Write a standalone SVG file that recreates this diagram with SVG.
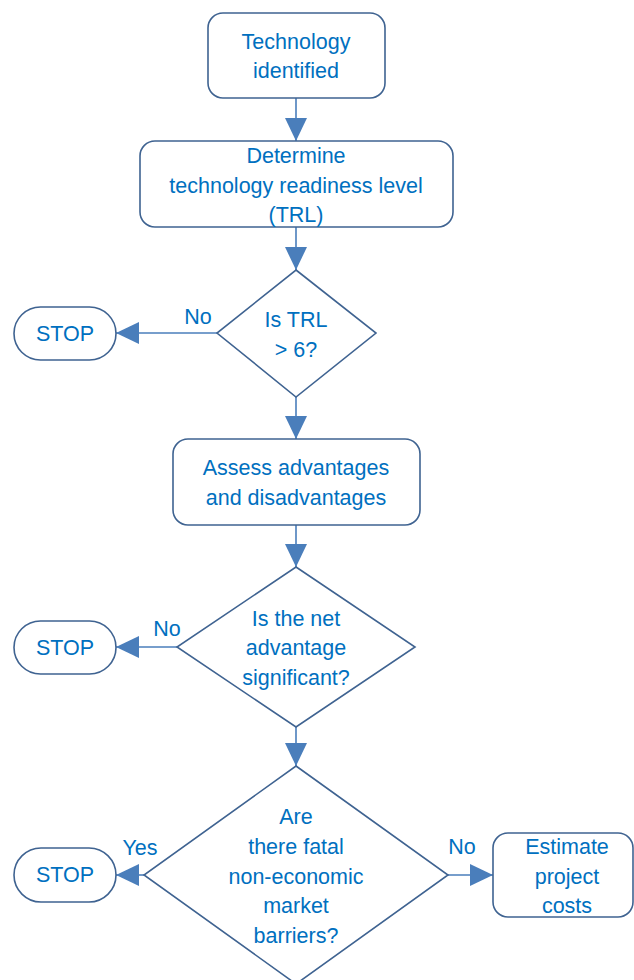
<svg xmlns="http://www.w3.org/2000/svg" width="634" height="980" viewBox="0 0 634 980">
<defs>
<marker id="ah" markerUnits="userSpaceOnUse" markerWidth="24" markerHeight="24" viewBox="0 0 24 24" refX="23" refY="12" orient="auto">
<path d="M0,1 L23,12 L0,23 Z" fill="#4a7ebb"/>
</marker>
<style>
.n{fill:#fff;stroke:#3f6391;stroke-width:1.6}
.t{font-family:"Liberation Sans",Arial,sans-serif;font-size:21.5px;fill:#0070c0;text-anchor:middle}
.c{stroke:#4a7ebb;stroke-width:1.6;fill:none;marker-end:url(#ah)}
</style>
</defs>
<rect width="634" height="980" fill="#fff"/>
<g id="connectors">
<line class="c" x1="296" y1="98" x2="296" y2="141"/>
<line class="c" x1="296" y1="227" x2="296" y2="270"/>
<line class="c" x1="217" y1="333" x2="116" y2="333"/>
<line class="c" x1="296" y1="397" x2="296" y2="439"/>
<line class="c" x1="296" y1="525" x2="296" y2="567"/>
<line class="c" x1="177" y1="647" x2="116" y2="647"/>
<line class="c" x1="296" y1="727" x2="296" y2="766"/>
<line class="c" x1="144" y1="875" x2="116" y2="875"/>
<line class="c" x1="448" y1="875" x2="493" y2="875"/>
<text class="t" x="198" y="324">No</text>
<text class="t" x="167" y="636">No</text>
<text class="t" x="140" y="855">Yes</text>
<text class="t" x="462" y="854">No</text>
</g>
<g id="n1">
<rect class="n" x="208" y="13" width="177" height="85" rx="15"/>
<text class="t" x="296" y="49">Technology</text>
<text class="t" x="296" y="78">identified</text>
</g>
<g id="n2">
<rect class="n" x="140" y="141" width="313" height="86" rx="15"/>
<text class="t" x="296" y="163">Determine</text>
<text class="t" x="296" y="193">technology readiness level</text>
<text class="t" x="296" y="222">(TRL)</text>
</g>
<g id="d1">
<polygon class="n" points="296,270 376,333 296,397 217,333"/>
<text class="t" x="296" y="327">Is TRL</text>
<text class="t" x="296" y="357">&gt; 6?</text>
</g>
<g id="s1">
<rect class="n" x="14" y="307" width="102" height="53" rx="26.5"/>
<text class="t" x="65" y="341">STOP</text>
</g>
<g id="n3">
<rect class="n" x="173" y="439" width="247" height="86" rx="15"/>
<text class="t" x="296" y="475">Assess advantages</text>
<text class="t" x="296" y="505">and disadvantages</text>
</g>
<g id="d2">
<polygon class="n" points="296,567 415,647 296,727 177,647"/>
<text class="t" x="296" y="626">Is the net</text>
<text class="t" x="296" y="655">advantage</text>
<text class="t" x="296" y="685">significant?</text>
</g>
<g id="s2">
<rect class="n" x="14" y="621" width="102" height="53" rx="26.5"/>
<text class="t" x="65" y="655">STOP</text>
</g>
<g id="d3">
<polygon class="n" points="296,766 448,875 296,984 144,875"/>
<text class="t" x="296" y="824">Are</text>
<text class="t" x="296" y="854">there fatal</text>
<text class="t" x="296" y="884">non-economic</text>
<text class="t" x="296" y="913">market</text>
<text class="t" x="296" y="943">barriers?</text>
</g>
<g id="s3">
<rect class="n" x="14" y="848" width="102" height="54" rx="27"/>
<text class="t" x="65" y="882">STOP</text>
</g>
<g id="n4">
<rect class="n" x="493" y="833" width="140" height="84" rx="15"/>
<text class="t" x="567" y="854">Estimate</text>
<text class="t" x="567" y="884">project</text>
<text class="t" x="567" y="913">costs</text>
</g>
</svg>
